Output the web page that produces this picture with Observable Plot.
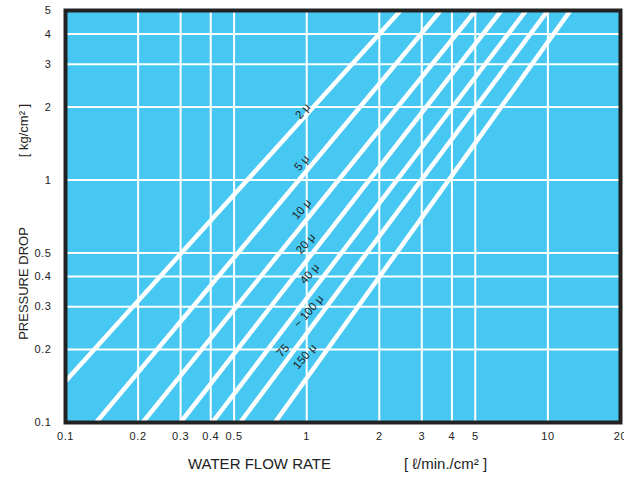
<!DOCTYPE html>
<html>
<head>
<meta charset="utf-8">
<script src="https://cdn.jsdelivr.net/npm/d3@7"></script>
<script src="https://cdn.jsdelivr.net/npm/@observablehq/plot@0.6"></script>
<style>
  html, body { margin: 0; padding: 0; background: #fff; }
  #chart svg { display: block; font-family: "Liberation Sans", Arial, Helvetica, sans-serif; }
  #chart svg [aria-label="x-axis tick label"] text,
  #chart svg [aria-label="y-axis tick label"] text { letter-spacing: 0.6px; }
</style>
</head>
<body>
<div id="chart"></div>
<script>
// ---- data ----
const xTicks = [0.1, 0.2, 0.3, 0.4, 0.5, 1, 2, 3, 4, 5, 10, 20];
const yTicks = [0.1, 0.2, 0.3, 0.4, 0.5, 1, 2, 3, 4, 5];
const xGrid = [0.2, 0.3, 0.4, 0.5, 1, 2, 3, 4, 5, 10];
const yGrid = [0.2, 0.3, 0.4, 0.5, 1, 2, 3, 4];

const series   = ["2 μ", "5 μ", "10 μ", "20 μ", "40 μ", "75 ~ 100 μ", "150 μ"];
const flowLow  = [0.1, 0.134, 0.209, 0.300, 0.406, 0.530, 0.738];
const dropLow  = [0.148, 0.1, 0.1, 0.1, 0.1, 0.1, 0.1];
const flowHigh = [2.45, 3.59, 5.01, 6.41, 8.12, 10.0, 12.4];
const dropHigh = [5, 5, 5, 5, 5, 5, 5];

const labelText = ["2 μ", "5 μ", "10 μ", "20 μ", "40 μ", "~ 100 μ", "75", "150 μ"];
const labelFlow = [0.963, 0.954, 0.954, 0.991, 1.029, 1.019, 0.797, 0.981];
const labelDrop = [1.92, 1.177, 0.757, 0.546, 0.410, 0.287, 0.198, 0.187];

// ---- tables built from arrays ----
const lines = series.map((s, i) => ({s, x1: flowLow[i], y1: dropLow[i], x2: flowHigh[i], y2: dropHigh[i]}));
const labels = labelText.map((t, i) => ({t, x: labelFlow[i], y: labelDrop[i]}));

const blue = "#46c8f2";
const ink = "#222";

const chart = Plot.plot({
  width: 624,
  height: 479,
  marginTop: 10,
  marginBottom: 57,
  marginLeft: 65,
  marginRight: 4,
  style: {fontFamily: "'Liberation Sans', Arial, sans-serif", fontSize: "11px", color: ink, background: "#fff"},
  x: {type: "log", domain: [0.1, 20], ticks: xTicks, tickFormat: d => String(d), tickSize: 0, tickPadding: 10, label: null},
  y: {type: "log", domain: [0.1, 5], ticks: yTicks, tickFormat: d => String(d), tickSize: 0, tickPadding: 14, label: null},
  marks: [
    Plot.frame({fill: blue, stroke: null}),
    Plot.ruleX(xGrid, {stroke: "white", strokeWidth: 2}),
    Plot.ruleY(yGrid, {stroke: "white", strokeWidth: 2}),
    Plot.link(lines, {x1: "x1", y1: "y1", x2: "x2", y2: "y2", stroke: "white", strokeWidth: 4.5, clip: true}),
    Plot.text(labels, {x: "x", y: "y", text: "t", rotate: -49, fill: ink, fontSize: 11.5, textAnchor: "middle"}),
    Plot.frame({stroke: ink, strokeWidth: 4}),
    Plot.text(["WATER FLOW RATE"], {frameAnchor: "bottom-left", dx: 194, dy: 46, text: d => d, fontSize: 15, fill: ink, textAnchor: "middle", style: "word-spacing:3px"}),
    Plot.text(["[ ℓ/min./cm² ]"], {frameAnchor: "bottom-left", dx: 380, dy: 46, text: d => d, fontSize: 15, fill: ink, textAnchor: "middle"}),
    Plot.text(["PRESSURE DROP"], {frameAnchor: "top-left", dx: -47, dy: 273, text: d => d, fontSize: 13, fill: ink, rotate: -90, textAnchor: "middle"}),
    Plot.text(["[ kg/cm² ]"], {frameAnchor: "top-left", dx: -47, dy: 120, text: d => d, fontSize: 13, fill: ink, rotate: -90, textAnchor: "middle"})
  ]
});
document.getElementById("chart").append(chart);
</script>
</body>
</html>
